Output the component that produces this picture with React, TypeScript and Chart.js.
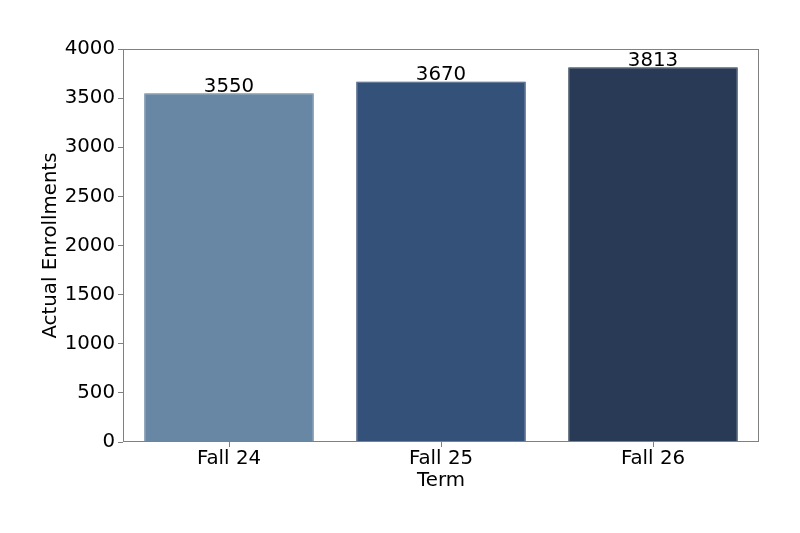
import React, { useEffect, useRef } from "react";
import { Chart, registerables } from "chart.js";

Chart.register(...registerables);

const categories = ["Fall 24", "Fall 25", "Fall 26"];
const enrollments = [3550, 3670, 3813];
const barColors = ["#6787a4", "#34517a", "#283a55"];
const borderColors = ["#5a7a99", "#2c4670", "#22334c"];
const yTicks = [0, 500, 1000, 1500, 2000, 2500, 3000, 3500, 4000];

const FONT = "'DejaVu Sans', sans-serif";
const FS = 19.8;

const boxPlugin = {
  id: "boxAndLabels",
  afterDatasetsDraw(chart: any) {
    const { ctx, chartArea } = chart;
    ctx.save();
    ctx.strokeStyle = "#808080";
    ctx.lineWidth = 1;
    ctx.strokeRect(
      Math.round(chartArea.left) + 0.5,
      Math.round(chartArea.top) + 0.5,
      Math.round(chartArea.right - chartArea.left) - 1,
      Math.round(chartArea.bottom - chartArea.top) - 1
    );
    const meta = chart.getDatasetMeta(0);
    ctx.fillStyle = "#000";
    ctx.font = `${FS}px ${FONT}`;
    ctx.textAlign = "center";
    ctx.textBaseline = "alphabetic";
    meta.data.forEach((bar: any, i: number) => {
      ctx.fillText(String(enrollments[i]), bar.x, bar.y - 1);
    });
    ctx.restore();
  },
};

export default function App() {
  const ref = useRef<HTMLCanvasElement>(null);
  useEffect(() => {
    if (!ref.current) return;
    const chart = new Chart(ref.current, {
      type: "bar",
      data: {
        labels: categories,
        datasets: [
          {
            data: enrollments,
            backgroundColor: barColors,
            borderColor: borderColors,
            borderWidth: 1,
            barPercentage: 0.8,
            categoryPercentage: 1,
          },
        ],
      },
      options: {
        animation: false,
        responsive: false,
        devicePixelRatio: 1,
        layout: { padding: { left: 0, top: 49, right: 41, bottom: 0 } },
        plugins: { legend: { display: false }, tooltip: { enabled: false } },
        scales: {
          x: {
            afterFit: (s: any) => {
              s.height = 91;
            },
            grid: {
              offset: false,
              drawOnChartArea: false,
              tickLength: 5,
              color: "#808080",
              tickColor: "#808080",
            },
            border: { display: false },
            ticks: { color: "#000", font: { family: FONT, size: FS }, padding: 0 },
            title: {
              display: true,
              text: "Term",
              color: "#000",
              font: { family: FONT, size: FS },
              padding: { top: 0, bottom: 40.5 },
            },
          },
          y: {
            min: 0,
            max: 4000,
            afterFit: (s: any) => {
              s.width = 123;
            },
            afterBuildTicks: (s: any) => {
              s.ticks = yTicks.map((v) => ({ value: v }));
            },
            grid: { drawOnChartArea: false, tickLength: 5, color: "#808080", tickColor: "#808080" },
            border: { display: false },
            ticks: {
              color: "#000",
              font: { family: FONT, size: FS },
              padding: 3,
              callback: (v: any) => String(v),
            },
            title: {
              display: true,
              text: "Actual Enrollments",
              color: "#000",
              font: { family: FONT, size: FS },
              padding: { top: 38.5, bottom: 0 },
            },
          },
        },
      },
      plugins: [boxPlugin],
    });
    return () => chart.destroy();
  }, []);
  return (
    <div style={{ position: "fixed", left: 0, top: 0, width: 800, height: 533, background: "#fff" }}>
      <canvas ref={ref} width={800} height={533} style={{ width: 800, height: 533 }} />
    </div>
  );
}
